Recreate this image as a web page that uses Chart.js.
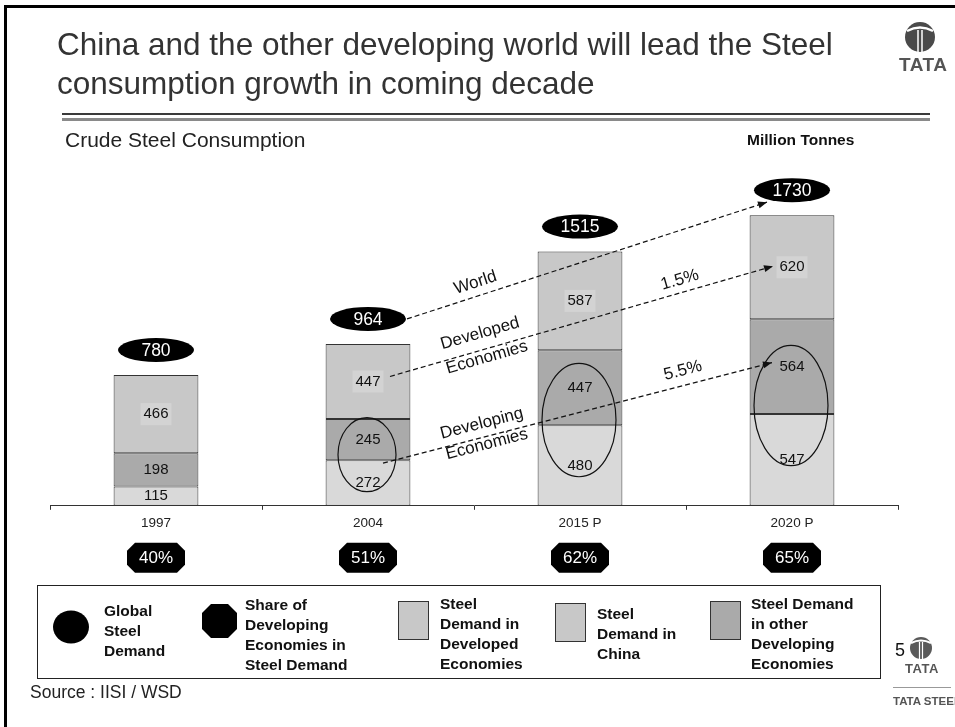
<!DOCTYPE html>
<html>
<head>
<meta charset="utf-8">
<script src="https://cdn.jsdelivr.net/npm/chart.js@4.4.0/dist/chart.umd.min.js"></script>
<style>
  body { margin: 0; background: #fff; }
  #slide { position: relative; width: 955px; height: 727px; overflow: hidden; font-family: 'Liberation Sans', Arial, sans-serif; color: #222; }
  #steelChart { position: absolute; left: 0; top: 0; }
  .abs { position: absolute; white-space: nowrap; }
  .frame { left: 4px; top: 5px; width: 960px; height: 740px; border-left: 3px solid #000; border-top: 3px solid #000; }
  .title { left: 57px; top: 25px; font-size: 31.5px; line-height: 39px; color: #333; }
  .rule1 { left: 62px; top: 113px; width: 868px; height: 2px; background: #3a3a3a; }
  .rule2 { left: 62px; top: 118px; width: 868px; height: 3px; background: #8a8a8a; }
  .sub { left: 65px; top: 128px; font-size: 21px; color: #222; }
  .unit { left: 747px; top: 131px; font-size: 15.5px; font-weight: bold; color: #111; }
  .legendBox { left: 37px; top: 585px; width: 842px; height: 92px; border: 1px solid #222; }
  .lgText { font-size: 15.5px; font-weight: bold; line-height: 20px; color: #111; }
  .swatch { border: 1px solid #333; box-sizing: border-box; }
  .source { left: 30px; top: 682px; font-size: 17.5px; color: #222; }
  .pageNo { left: 895px; top: 640px; font-size: 18px; color: #111; }
  .logoTxt { font-weight: bold; color: #555; letter-spacing: 0.5px; }
</style>
</head>
<body>
<div id="slide">
  <canvas id="steelChart" width="955" height="727"></canvas>

  <div class="abs frame"></div>
  <div class="abs title">China and the other developing world will lead the Steel<br>consumption growth in coming decade</div>
  <div class="abs rule1"></div>
  <div class="abs rule2"></div>
  <div class="abs sub">Crude Steel Consumption</div>
  <div class="abs unit">Million Tonnes</div>

  <div class="abs legendBox"></div>
  <svg class="abs" style="left:52px;top:610px" width="38" height="34"><ellipse cx="19" cy="17" rx="18" ry="16.5" fill="#000"/></svg>
  <div class="abs lgText" style="left:104px;top:601px">Global<br>Steel<br>Demand</div>
  <svg class="abs" style="left:202px;top:604px" width="35" height="34"><polygon points="9,0 26,0 35,9 35,25 26,34 9,34 0,25 0,9" fill="#000"/></svg>
  <div class="abs lgText" style="left:245px;top:595px">Share of<br>Developing<br>Economies in<br>Steel Demand</div>
  <div class="abs swatch" style="left:398px;top:601px;width:31px;height:39px;background:#c8c8c8"></div>
  <div class="abs lgText" style="left:440px;top:594px">Steel<br>Demand in<br>Developed<br>Economies</div>
  <div class="abs swatch" style="left:555px;top:603px;width:31px;height:39px;background:#c8c8c8"></div>
  <div class="abs lgText" style="left:597px;top:604px">Steel<br>Demand in<br>China</div>
  <div class="abs swatch" style="left:710px;top:601px;width:31px;height:39px;background:#aaaaaa"></div>
  <div class="abs lgText" style="left:751px;top:594px">Steel Demand<br>in other<br>Developing<br>Economies</div>

  <div class="abs source">Source : IISI / WSD</div>
  <div class="abs pageNo">5</div>

  <svg class="abs" style="left:904px;top:21px" width="32" height="32">
    <circle cx="16" cy="16" r="15" fill="#4a4a4a"/>
    <path d="M3 10 Q16 3 29 10" stroke="#fff" stroke-width="2.5" fill="none"/>
    <path d="M14 9 L14 31 M18 9 L18 31" stroke="#fff" stroke-width="1.5"/>
  </svg>
  <div class="abs logoTxt" style="left:899px;top:54px;font-size:19px">TATA</div>

  <svg class="abs" style="left:909px;top:636px" width="24" height="24">
    <circle cx="12" cy="12" r="11" fill="#5a5a5a"/>
    <path d="M2 7 Q12 2 22 7" stroke="#fff" stroke-width="2" fill="none"/>
    <path d="M10.5 6 L10.5 23 M13.5 6 L13.5 23" stroke="#fff" stroke-width="1.2"/>
  </svg>
  <div class="abs logoTxt" style="left:905px;top:661px;font-size:13px">TATA</div>
  <div class="abs" style="left:893px;top:687px;width:58px;height:1px;background:#999"></div>
  <div class="abs logoTxt" style="left:893px;top:695px;font-size:11.5px;letter-spacing:0">TATA STEEL</div>
</div>

<script>
const years = ['1997', '2004', '2015 P', '2020 P'];
const chinaDemand = [115, 272, 480, 547];
const otherDeveloping = [198, 245, 447, 564];
const developedDemand = [466, 447, 587, 620];
const globalDemand = [780, 964, 1515, 1730];
const developingShare = ['40%', '51%', '62%', '65%'];
const growthDeveloped = '1.5%';
const growthDeveloping = '5.5%';

const FONT = '"Liberation Sans", Arial, sans-serif';

// circles drawn round the developing-economy stacks (value units)
const rings = [
    { i: 1, lo: 84, hi: 525, rx: 29 },
    { i: 2, lo: 173, hi: 848, rx: 37 },
    { i: 3, lo: 239, hi: 955, rx: 37 },
];

function dashedArrow(ctx, a, b) {
    ctx.save();
    ctx.strokeStyle = '#111';
    ctx.fillStyle = '#111';
    ctx.lineWidth = 1.2;
    ctx.setLineDash([5, 3]);
    ctx.beginPath();
    ctx.moveTo(a.x, a.y);
    ctx.lineTo(b.x, b.y);
    ctx.stroke();
    ctx.setLineDash([]);
    const ang = Math.atan2(b.y - a.y, b.x - a.x);
    ctx.translate(b.x, b.y);
    ctx.rotate(ang);
    ctx.beginPath();
    ctx.moveTo(0, 0);
    ctx.lineTo(-9, -3.5);
    ctx.lineTo(-9, 3.5);
    ctx.closePath();
    ctx.fill();
    ctx.restore();
}

function lineLabel(ctx, a, b, t, dy, text) {
    const px = a.x + (b.x - a.x) * t;
    const py = a.y + (b.y - a.y) * t + dy;
    ctx.save();
    ctx.translate(px, py);
    ctx.rotate(Math.atan2(b.y - a.y, b.x - a.x));
    ctx.font = '17px ' + FONT;
    ctx.fillStyle = '#111';
    ctx.textAlign = 'center';
    ctx.textBaseline = 'middle';
    ctx.fillText(text, 0, 0);
    ctx.restore();
}

const overlayPlugin = {
    id: 'slideOverlay',
    afterDatasetsDraw(chart) {
        const { ctx, scales: { x, y } } = chart;

        // segment values
        chart.data.datasets.forEach((ds, di) => {
            chart.getDatasetMeta(di).data.forEach((bar, i) => {
                const cy = (bar.y + bar.base) / 2;
                const txt = String(ds.data[i]);
                ctx.save();
                ctx.font = '15px ' + FONT;
                ctx.textAlign = 'center';
                ctx.textBaseline = 'middle';
                if (di === 2) {
                    const w = ctx.measureText(txt).width + 6;
                    ctx.fillStyle = '#d3d3d3';
                    ctx.fillRect(bar.x - w / 2, cy - 11, w, 22);
                }
                ctx.fillStyle = '#111';
                ctx.fillText(txt, bar.x, cy);
                ctx.restore();
            });
        });

        // rings
        rings.forEach(r => {
            const top = y.getPixelForValue(r.hi);
            const bot = y.getPixelForValue(r.lo);
            ctx.save();
            ctx.strokeStyle = '#111';
            ctx.lineWidth = 1.2;
            ctx.beginPath();
            ctx.ellipse(x.getPixelForValue(r.i) - 1, (top + bot) / 2, r.rx, (bot - top) / 2, 0, 0, Math.PI * 2);
            ctx.stroke();
            ctx.restore();
        });

        const stackTop = i => y.getPixelForValue(chinaDemand[i] + otherDeveloping[i] + developedDemand[i]);
        const mid = (lo, hi) => (y.getPixelForValue(lo) + y.getPixelForValue(hi)) / 2;

        // global demand ovals
        globalDemand.forEach((v, i) => {
            const cx = x.getPixelForValue(i);
            const cy = stackTop(i) - 25;
            ctx.save();
            ctx.fillStyle = '#000';
            ctx.beginPath();
            ctx.ellipse(cx, cy, 38, 12, 0, 0, Math.PI * 2);
            ctx.fill();
            ctx.fillStyle = '#fff';
            ctx.font = '17.5px ' + FONT;
            ctx.textAlign = 'center';
            ctx.textBaseline = 'middle';
            ctx.fillText(String(v), cx, cy + 1);
            ctx.restore();
        });

        // growth arrows from 2004 to 2020
        const x1 = x.getPixelForValue(1), x3 = x.getPixelForValue(3);
        const world = [
            { x: x1 + 39, y: stackTop(1) - 25 },
            { x: x3 - 25, y: stackTop(3) - 13 },
        ];
        const dev1 = chinaDemand[1] + otherDeveloping[1];
        const dev3 = chinaDemand[3] + otherDeveloping[3];
        const developed = [
            { x: x1 + 22, y: mid(dev1, dev1 + developedDemand[1]) - 5 },
            { x: x3 - 19, y: mid(dev3, dev3 + developedDemand[3]) - 1 },
        ];
        const developing = [
            { x: x1 + 15, y: y.getPixelForValue(chinaDemand[1]) + 3 },
            { x: x3 - 20, y: mid(chinaDemand[3], dev3) - 4 },
        ];
        dashedArrow(ctx, world[0], world[1]);
        dashedArrow(ctx, developed[0], developed[1]);
        dashedArrow(ctx, developing[0], developing[1]);

        lineLabel(ctx, world[0], world[1], 0.19, -14, 'World');
        lineLabel(ctx, developed[0], developed[1], 0.235, -17, 'Developed');
        lineLabel(ctx, developed[0], developed[1], 0.253, 9, 'Economies');
        lineLabel(ctx, developed[0], developed[1], 0.757, -13, growthDeveloped);
        lineLabel(ctx, developing[0], developing[1], 0.254, -14, 'Developing');
        lineLabel(ctx, developing[0], developing[1], 0.267, 8, 'Economies');
        lineLabel(ctx, developing[0], developing[1], 0.771, -15, growthDeveloping);
    },
    afterDraw(chart) {
        const { ctx, scales: { x }, chartArea } = chart;
        // share of developing economies
        developingShare.forEach((s, i) => {
            const cx = x.getPixelForValue(i);
            const cy = chartArea.bottom + 52;
            const w = 29, h = 15, c = 8;
            ctx.save();
            ctx.fillStyle = '#000';
            ctx.beginPath();
            ctx.moveTo(cx - w + c, cy - h);
            ctx.lineTo(cx + w - c, cy - h);
            ctx.lineTo(cx + w, cy - h + c);
            ctx.lineTo(cx + w, cy + h - c);
            ctx.lineTo(cx + w - c, cy + h);
            ctx.lineTo(cx - w + c, cy + h);
            ctx.lineTo(cx - w, cy + h - c);
            ctx.lineTo(cx - w, cy - h + c);
            ctx.closePath();
            ctx.fill();
            ctx.fillStyle = '#fff';
            ctx.font = '17px ' + FONT;
            ctx.textAlign = 'center';
            ctx.textBaseline = 'middle';
            ctx.fillText(s, cx, cy + 1);
            ctx.restore();
        });
    },
};

const barStyle = {
    borderColor: '#333',
    borderWidth: 1,
    borderSkipped: false,
    barPercentage: 0.4,
    categoryPercentage: 1.0,
};

const ctx = document.getElementById('steelChart').getContext('2d');
new Chart(ctx, {
    type: 'bar',
    data: {
        labels: years,
        datasets: [
            { label: 'Steel Demand in China', data: chinaDemand, backgroundColor: '#d9d9d9', ...barStyle },
            { label: 'Steel Demand in other Developing Economies', data: otherDeveloping, backgroundColor: '#aaaaaa', ...barStyle },
            { label: 'Steel Demand in Developed Economies', data: developedDemand, backgroundColor: '#c8c8c8', ...barStyle },
        ],
    },
    options: {
        responsive: false,
        animation: false,
        layout: { padding: { left: 50, right: 57, top: 170, bottom: 191 } },
        plugins: {
            legend: { display: false },
            tooltip: { enabled: false },
        },
        scales: {
            x: {
                stacked: true,
                grid: { drawOnChartArea: false, tickLength: 4, color: '#333' },
                border: { color: '#333', width: 1 },
                ticks: { color: '#222', font: { size: 13.5, family: FONT }, padding: 5 },
            },
            y: {
                stacked: true,
                display: false,
                min: 0,
                max: 2000,
            },
        },
    },
    plugins: [overlayPlugin],
});
</script>
</body>
</html>
